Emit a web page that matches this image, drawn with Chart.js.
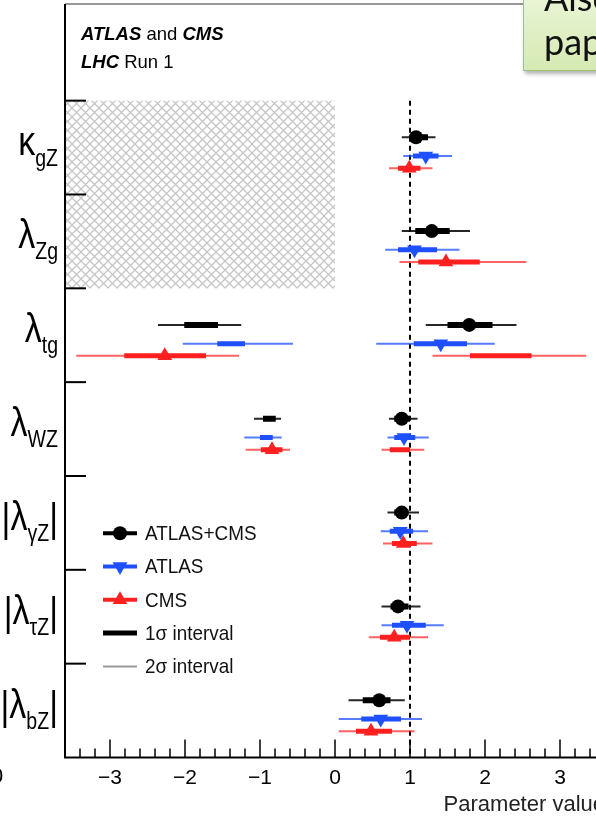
<!DOCTYPE html>
<html>
<head>
<meta charset="utf-8">
<script src="https://cdn.jsdelivr.net/npm/chart.js@4.4.1/dist/chart.umd.min.js"></script>
<style>
  html, body { margin: 0; padding: 0; background: #fff; overflow: hidden; }
  #wrap { position: relative; width: 596px; height: 819px; overflow: hidden; }
  #chart { position: absolute; left: 0; top: 0; }
  .callout {
    position: absolute; left: 523px; top: -26px; width: 110px; height: 97px;
    background: linear-gradient(#f0f8e0, #d5eab2);
    border: 1.5px solid #9cc66c; box-shadow: 2px 3px 4px rgba(0,0,0,0.3);
    font-family: Lato, "Open Sans", sans-serif; font-size: 36px; line-height: 44px;
    color: #111; padding-left: 20px; box-sizing: border-box; white-space: nowrap;
  }
  .edge { position: absolute; left: -9px; top: 763px; font: 22px "Liberation Sans", sans-serif; color: #000; }
</style>
</head>
<body>
<div id="wrap">
  <canvas id="chart" width="620" height="819"></canvas>
  <div class="callout">Also in<br>paper</div>
  <div class="edge">0</div>
</div>
<script>
// Coupling ratio summary (ATLAS and CMS, LHC Run 1)

// Parameters, top to bottom
const paramSymbols = ['κ', 'λ', 'λ', 'λ', 'λ', 'λ', 'λ'];
const paramSubs = ['gZ', 'Zg', 'tg', 'WZ', 'γZ', 'τZ', 'bZ'];
const paramAbs = [false, false, false, false, true, true, true];

// X axis tick labels
const xTicks = [-3, -2, -1, 0, 1, 2, 3];

// Series
const seriesNames = ['ATLAS+CMS', 'ATLAS', 'CMS'];

// ATLAS+CMS
const combCentral = [1.08, 1.29, 1.79, 0.89, 0.89, 0.84, 0.59];
const comb1s = [[1.00, 1.24], [1.07, 1.53], [1.50, 2.10], [0.79, 1.00], [0.79, 0.98], [0.74, 0.98], [0.37, 0.74]];
const comb2s = [[0.89, 1.34], [0.89, 1.80], [1.21, 2.42], [0.72, 1.10], [0.70, 1.12], [0.62, 1.14], [0.18, 0.93]];
const comb1sAlt = [null, null, [-2.01, -1.56], [-0.96, -0.79], null, null, null];
const comb2sAlt = [null, null, [-2.36, -1.25], [-1.08, -0.72], null, null, null];

// ATLAS
const atlasCentral = [1.21, 1.06, 1.41, 0.92, 0.87, 0.96, 0.61];
const atlas1s = [[1.04, 1.38], [0.84, 1.36], [1.05, 1.76], [0.79, 1.07], [0.73, 1.04], [0.76, 1.21], [0.35, 0.88]];
const atlas2s = [[0.91, 1.56], [0.67, 1.66], [0.55, 2.13], [0.70, 1.25], [0.61, 1.24], [0.62, 1.45], [0.05, 1.16]];
const atlas1sAlt = [null, null, [-1.57, -1.20], [-1.00, -0.83], null, null, null];
const atlas2sAlt = [null, null, [-2.03, -0.56], [-1.21, -0.71], null, null, null];

// CMS
const cmsCentral = [0.99, 1.48, -2.27, -0.84, 0.91, 0.79, 0.48];
const cms1s = [[0.84, 1.14], [1.11, 1.93], [1.80, 2.62], [0.73, 1.00], [0.76, 1.09], [0.60, 1.00], [0.28, 0.76]];
const cms2s = [[0.72, 1.30], [0.86, 2.55], [1.30, 3.35], [0.62, 1.19], [0.64, 1.30], [0.45, 1.24], [0.05, 1.06]];
const cms1sAlt = [null, null, [-2.81, -1.72], [-0.99, -0.70], null, null, null];
const cms2sAlt = [null, null, [-3.45, -1.28], [-1.19, -0.60], null, null, null];

// Legend
const legendLabels = ['ATLAS+CMS', 'ATLAS', 'CMS', '1σ interval', '2σ interval'];

// Styling
const nRows = paramSubs.length;
const rowOffsets = [0.39, 0.59, 0.72];
const colors = ['#000000', '#1f50ff', '#ff2020'];
const thinColors = ['rgba(0,0,0,0.85)', 'rgba(31,80,255,0.75)', 'rgba(255,32,32,0.7)'];
const markerStyles = ['circle', 'triangle', 'triangle'];
const markerRotation = [0, 180, 0];
const markerRadius = [7, 8.5, 8.5];
const xMin = -3.6, xMax = 3.6;
const smValue = 1;
const hatchRows = [0, 1];
const hatchRange = [xMin, 0];

function rowY(k, s) {
  return nRows - k - rowOffsets[s];
}

// Line segments with gaps between intervals
function intervalPoints(main, alt, s) {
  const pts = [];
  main.forEach((iv, k) => {
    const y = rowY(k, s);
    pts.push({ x: iv[0], y }, { x: iv[1], y }, { x: iv[1], y: null });
    if (alt[k]) {
      pts.push({ x: alt[k][0], y }, { x: alt[k][1], y }, { x: alt[k][1], y: null });
    }
  });
  return pts;
}

const centrals = [combCentral, atlasCentral, cmsCentral];
const sig1 = [[comb1s, comb1sAlt], [atlas1s, atlas1sAlt], [cms1s, cms1sAlt]];
const sig2 = [[comb2s, comb2sAlt], [atlas2s, atlas2sAlt], [cms2s, cms2sAlt]];

const datasets = [];
// 2 sigma (thin)
sig2.forEach(([main, alt], s) => {
  datasets.push({
    label: seriesNames[s] + ' 2σ',
    data: intervalPoints(main, alt, s),
    showLine: true,
    borderColor: thinColors[s],
    borderWidth: 2,
    pointRadius: 0,
    spanGaps: false,
    borderCapStyle: 'butt',
  });
});
// 1 sigma (thick)
sig1.forEach(([main, alt], s) => {
  datasets.push({
    label: seriesNames[s] + ' 1σ',
    data: intervalPoints(main, alt, s),
    showLine: true,
    borderColor: colors[s],
    borderWidth: s === 0 ? 6 : 5,
    pointRadius: 0,
    spanGaps: false,
    borderCapStyle: 'butt',
  });
});
// Best-fit markers
centrals.forEach((vals, s) => {
  datasets.push({
    label: seriesNames[s],
    data: vals.map((v, k) => ({ x: v, y: rowY(k, s) })),
    showLine: false,
    pointStyle: markerStyles[s],
    pointRotation: markerRotation[s],
    pointRadius: markerRadius[s],
    backgroundColor: colors[s],
    borderColor: colors[s],
    borderWidth: 0,
  });
});

// Hatch pattern for excluded region
function makeHatch() {
  const c = document.createElement('canvas');
  c.width = 9;
  c.height = 9;
  const g = c.getContext('2d');
  g.strokeStyle = '#c6c6c6';
  g.lineWidth = 1.3;
  g.beginPath();
  g.moveTo(0, 0); g.lineTo(9, 9);
  g.moveTo(9, 0); g.lineTo(0, 9);
  g.stroke();
  return c;
}

function drawMarker(ctx, s, x, y) {
  const r = markerRadius[s];
  ctx.fillStyle = colors[s];
  ctx.beginPath();
  if (markerStyles[s] === 'circle') {
    ctx.arc(x, y, r, 0, Math.PI * 2);
  } else {
    const dir = markerRotation[s] === 180 ? 1 : -1;
    ctx.moveTo(x, y + dir * r);
    ctx.lineTo(x - r * 0.866, y - dir * r * 0.5);
    ctx.lineTo(x + r * 0.866, y - dir * r * 0.5);
    ctx.closePath();
  }
  ctx.fill();
}

const decorPlugin = {
  id: 'decor',
  beforeDatasetsDraw(chart) {
    const { ctx, scales: { x, y } } = chart;
    ctx.save();
    // hatched region
    const x0 = x.getPixelForValue(hatchRange[0]);
    const x1 = x.getPixelForValue(hatchRange[1]);
    const yTop = y.getPixelForValue(nRows - hatchRows[0]);
    const yBot = y.getPixelForValue(nRows - hatchRows[hatchRows.length - 1] - 1);
    ctx.fillStyle = ctx.createPattern(makeHatch(), 'repeat');
    ctx.fillRect(x0, yTop, x1 - x0, yBot - yTop);
    // SM line
    const xs = x.getPixelForValue(smValue);
    ctx.strokeStyle = '#000';
    ctx.lineWidth = 2;
    ctx.setLineDash([5, 4]);
    ctx.beginPath();
    ctx.moveTo(xs, y.getPixelForValue(nRows));
    ctx.lineTo(xs, y.getPixelForValue(0));
    ctx.stroke();
    ctx.restore();
  },
  afterDraw(chart) {
    const { ctx, chartArea: a, scales: { x, y } } = chart;
    ctx.save();
    // frame
    ctx.strokeStyle = '#777';
    ctx.lineWidth = 1.5;
    ctx.beginPath();
    ctx.moveTo(a.left, a.top);
    ctx.lineTo(a.right, a.top);
    ctx.lineTo(a.right, a.bottom);
    ctx.stroke();
    ctx.strokeStyle = '#000';
    ctx.lineWidth = 2;
    ctx.beginPath();
    ctx.moveTo(a.left, a.top);
    ctx.lineTo(a.left, a.bottom);
    ctx.lineTo(a.right, a.bottom);
    ctx.stroke();
    // row separators on the y axis
    for (let v = 1; v <= nRows; v++) {
      const py = y.getPixelForValue(v);
      ctx.beginPath();
      ctx.moveTo(a.left, py);
      ctx.lineTo(a.left + 21, py);
      ctx.stroke();
    }
    // x ticks, inside
    ctx.lineWidth = 1.5;
    for (let i = Math.ceil(xMin * 5); i <= Math.floor(xMax * 5); i++) {
      const px = x.getPixelForValue(i / 5);
      const len = i % 5 === 0 ? 18 : 9;
      ctx.beginPath();
      ctx.moveTo(px, a.bottom);
      ctx.lineTo(px, a.bottom - len);
      ctx.stroke();
    }

    // y labels
    ctx.fillStyle = '#000';
    ctx.textBaseline = 'alphabetic';
    ctx.textAlign = 'left';
    const big = '40px "Liberation Sans", sans-serif';
    const small = '23px "Liberation Sans", sans-serif';
    const sx = 0.85;
    paramSubs.forEach((sub, k) => {
      const cy = y.getPixelForValue(nRows - k - 0.5);
      const parts = [];
      if (paramAbs[k]) parts.push(['|', big, 9]);
      parts.push([paramSymbols[k], big, 7]);
      parts.push([sub, small, 18]);
      if (paramAbs[k]) parts.push(['|', big, 9]);
      let w = 0;
      parts.forEach((p) => { ctx.font = p[1]; w += ctx.measureText(p[0]).width; });
      ctx.save();
      ctx.translate(a.left - 7 - w * sx, 0);
      ctx.scale(sx, 1);
      let cx = 0;
      parts.forEach((p) => {
        ctx.font = p[1];
        ctx.fillText(p[0], cx, cy + p[2]);
        cx += ctx.measureText(p[0]).width;
      });
      ctx.restore();
    });

    // experiment label
    const runs = [
      [['ATLAS', 'italic bold'], [' and ', 'normal'], ['CMS', 'italic bold']],
      [['LHC', 'italic bold'], [' Run 1', 'normal']],
    ];
    runs.forEach((line, i) => {
      let cx = a.left + 16;
      line.forEach(([t, st]) => {
        ctx.font = st + ' 18.5px "Liberation Sans", sans-serif';
        ctx.fillText(t, cx, 40 + i * 28);
        cx += ctx.measureText(t).width;
      });
    });

    // legend
    const lx0 = a.left + 38, lx1 = a.left + 72;
    legendLabels.forEach((label, i) => {
      const ly = y.getPixelForValue(nRows - 4.61) + i * 33.3;
      ctx.beginPath();
      if (i < 3) {
        ctx.strokeStyle = colors[i];
        ctx.lineWidth = 4;
      } else if (i === 3) {
        ctx.strokeStyle = '#000';
        ctx.lineWidth = 5;
      } else {
        ctx.strokeStyle = '#999';
        ctx.lineWidth = 2;
      }
      ctx.moveTo(lx0, ly);
      ctx.lineTo(lx1, ly);
      ctx.stroke();
      if (i < 3) drawMarker(ctx, i, (lx0 + lx1) / 2, ly);
      ctx.save();
      ctx.translate(lx1 + 8, ly);
      ctx.scale(0.9, 1);
      ctx.fillStyle = '#111';
      ctx.font = '21px "Liberation Sans", sans-serif';
      ctx.textBaseline = 'middle';
      ctx.fillText(label, 0, 1);
      ctx.restore();
    });
    ctx.restore();
  },
};

const config = {
  type: 'scatter',
  data: { datasets },
  options: {
    responsive: false,
    animation: false,
    events: [],
    layout: { autoPadding: false, padding: { left: 65, right: 15, top: 4, bottom: 8 } },
    plugins: {
      legend: { display: false },
      tooltip: { enabled: false },
    },
    scales: {
      x: {
        type: 'linear',
        position: 'bottom',
        min: xMin,
        max: xMax,
        grid: { display: false, drawTicks: false },
        border: { display: false },
        afterBuildTicks: (scale) => {
          scale.ticks = xTicks.map((v) => ({ value: v }));
        },
        ticks: {
          padding: 8,
          color: '#000',
          font: { family: '"Liberation Sans", sans-serif', size: 21 },
          callback: (v) => (v < 0 ? '\u2212' + Math.abs(v) : String(v)),
        },
        title: {
          display: true,
          text: 'Parameter value',
          align: 'end',
          color: '#222',
          font: { family: '"Liberation Sans", sans-serif', size: 22, lineHeight: 0.56 },
          padding: { top: 0, bottom: 0 },
        },
      },
      y: {
        type: 'linear',
        display: false,
        min: 0,
        max: 8.03,
      },
    },
  },
  plugins: [decorPlugin],
};

new Chart(document.getElementById('chart'), config);
</script>
</body>
</html>
